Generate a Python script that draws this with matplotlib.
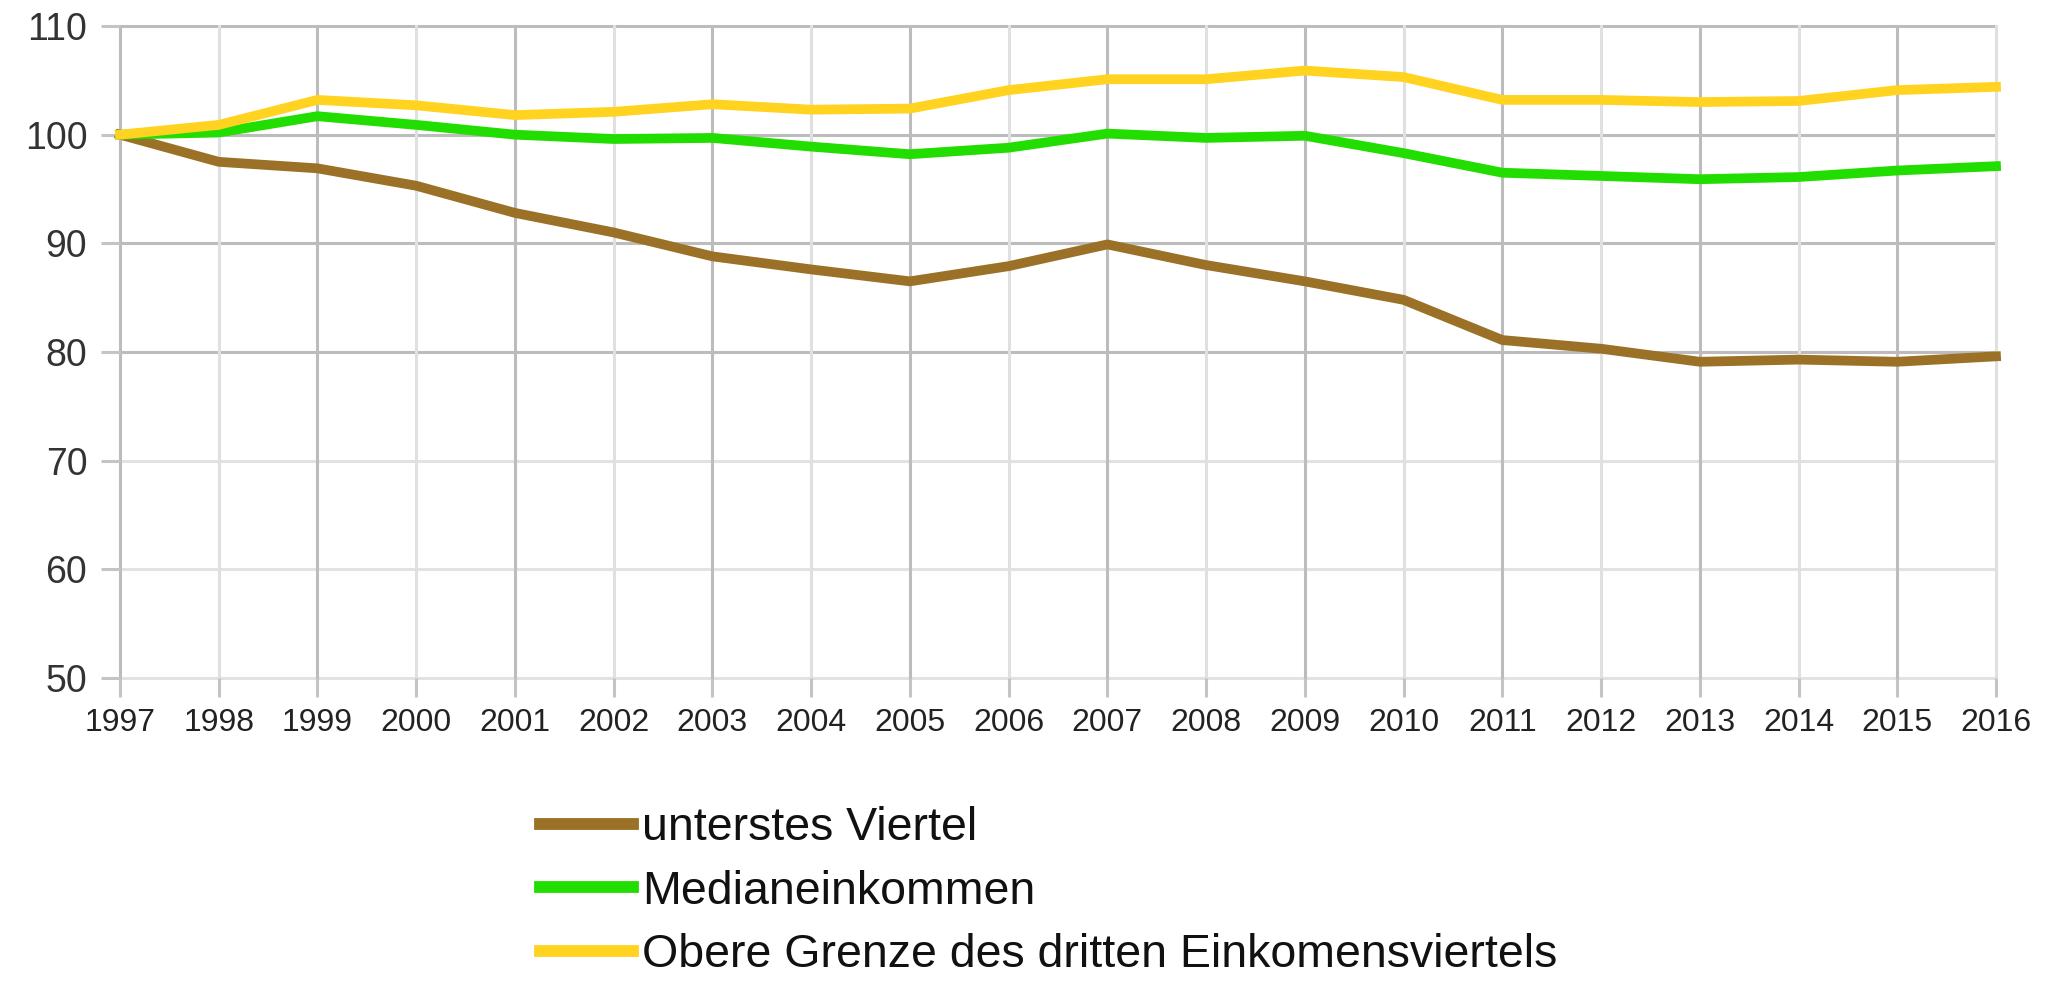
import matplotlib
matplotlib.use("Agg")
import matplotlib.pyplot as plt

years = list(range(1997, 2017))
unterstes = [100.0, 97.5, 96.9, 95.3, 92.8, 91.0, 88.8, 87.6, 86.5, 87.9, 89.9, 88.0, 86.5, 84.8, 81.1, 80.3, 79.1, 79.3, 79.1, 79.6]
median = [100.0, 100.2, 101.7, 100.9, 100.0, 99.6, 99.7, 98.9, 98.2, 98.8, 100.1, 99.7, 99.9, 98.3, 96.5, 96.2, 95.9, 96.1, 96.7, 97.1]
obere = [100.0, 100.9, 103.2, 102.7, 101.8, 102.1, 102.8, 102.3, 102.4, 104.1, 105.1, 105.1, 105.9, 105.3, 103.2, 103.2, 103.0, 103.1, 104.1, 104.4]
labels = ["unterstes Viertel", "Medianeinkommen", "Obere Grenze des dritten Einkomensviertels"]
colors = ["#9a7126", "#22dd00", "#ffd320"]
yticks = [50, 60, 70, 80, 90, 100, 110]

plt.rcParams['font.family'] = ['Liberation Sans', 'DejaVu Sans']

fig = plt.figure(figsize=(20.51, 9.83), dpi=100)
ax = fig.add_axes([120/2051, 1-678/983, (1996-120)/2051, (678-26)/983])

ax.set_xlim(1997, 2016)
ax.set_ylim(50, 110)
for s in ax.spines.values():
    s.set_visible(False)

# grid lines
for i, yv in enumerate(yticks):
    c = "#bcbcbc" if yv >= 80 else "#e2e2e2"
    ax.axhline(yv, color=c, lw=2.2, zorder=1, clip_on=False)
for i, xv in enumerate(years):
    c = "#bcbcbc" if i % 2 == 0 else "#e0e0e0"
    ax.axvline(xv, color=c, lw=2.2, zorder=1, clip_on=False)

lines = []
for data, lab, col in zip([unterstes, median, obere], labels, colors):
    ln, = ax.plot(years, data, color=col, lw=7, label=lab, zorder=3,
                  clip_on=False, solid_joinstyle='round')
    lines.append(ln)

ax.set_xticks(years)
ax.set_xticklabels([str(y) for y in years])
ax.set_yticks(yticks)
ax.tick_params(axis='x', length=13.5, width=2.2, color="#c4c4c4", pad=8,
               labelsize=23, labelcolor="#222222")
ax.tick_params(axis='y', length=13.5, width=2.2, color="#c4c4c4", pad=10,
               labelsize=27, labelcolor="#333333")

leg = fig.legend(handles=lines, labels=labels, loc='upper left',
                 bbox_to_anchor=(540/2051, 1-806/983), frameon=False,
                 fontsize=33.5, handlelength=2.0, handletextpad=0.2,
                 labelspacing=0.42, borderaxespad=0, borderpad=0)
for h in leg.get_lines():
    h.set_linewidth(8.5)
for t in leg.get_texts():
    t.set_color("#111111")

fig.savefig("out.png", dpi=100, facecolor="white")
